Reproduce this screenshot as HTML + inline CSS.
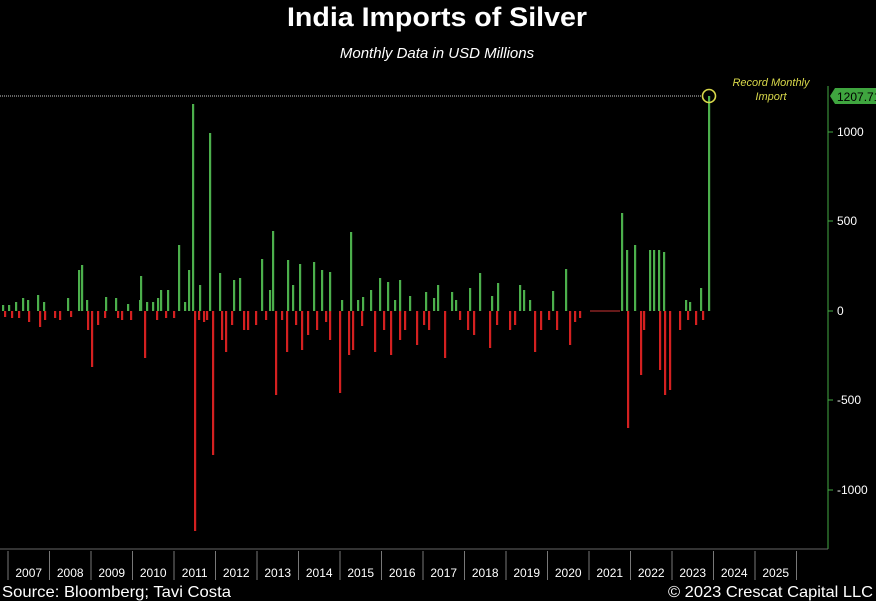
<!DOCTYPE html>
<html><head><meta charset="utf-8"><style>
body{margin:0;background:#000;width:876px;height:601px;overflow:hidden;font-family:"Liberation Sans",sans-serif}
</style></head><body>
<svg width="876" height="601" xmlns="http://www.w3.org/2000/svg" style="position:absolute;left:0;top:0">
<rect width="876" height="601" fill="#000"/>
<text x="287" y="26" fill="#fff" font-size="27" font-weight="bold" textLength="300" lengthAdjust="spacingAndGlyphs">India Imports of Silver</text>
<text x="437" y="58" fill="#fff" font-size="15" font-style="italic" text-anchor="middle">Monthly Data in USD Millions</text>
<line x1="0" y1="96" x2="702" y2="96" stroke="#ccc" stroke-width="1" stroke-dasharray="1,1"/>
<g id="bars"></g>
<line x1="590" y1="311" x2="620" y2="311" stroke="#c33" stroke-width="1"/>
<circle cx="709" cy="96" r="6.5" fill="none" stroke="#d8d84a" stroke-width="1.6"/>
<text x="771" y="86" fill="#d8d84a" font-size="11" font-style="italic" text-anchor="middle">Record Monthly</text>
<text x="771" y="100" fill="#d8d84a" font-size="11" font-style="italic" text-anchor="middle">Import</text>
<line x1="828" y1="86" x2="828" y2="549" stroke="#4a4" stroke-width="1"/>
<line x1="0" y1="549" x2="828" y2="549" stroke="#666" stroke-width="1"/>
<polygon points="830,96 835,88 876,88 876,104 835,104" fill="#3fa53f"/>
<text x="837" y="101" fill="#000" font-size="12">1207.71</text>
<g fill="#fff" font-size="12">
<text x="837" y="136">1000</text><text x="837" y="225">500</text><text x="837" y="315">0</text>
<text x="837" y="404">-500</text><text x="837" y="494">-1000</text>
</g>
<g stroke="#4a4" stroke-width="1">
<line x1="828" y1="132" x2="833" y2="132"/><line x1="828" y1="221" x2="833" y2="221"/><line x1="828" y1="311" x2="833" y2="311"/><line x1="828" y1="400" x2="833" y2="400"/><line x1="828" y1="490" x2="833" y2="490"/>
</g>
<g id="axis"></g>
<text x="2" y="597" fill="#fff" font-size="16" textLength="229" lengthAdjust="spacingAndGlyphs">Source: Bloomberg; Tavi Costa</text>
<text x="668" y="597" fill="#fff" font-size="16" textLength="205" lengthAdjust="spacingAndGlyphs">© 2023 Crescat Capital LLC</text>
</svg>
<script>
var ns="http://www.w3.org/2000/svg";
var g=[[3,305],[9,305],[16,302],[23,298],[28,300],[38,295],[44,302],[68,298],[79,270],[82,265],[87,300],[106,297],[116,298],[128,304],[140,300],[141,276],[147,302],[153,302],[158,298],[161,290],[168,290],[179,245],[185,302],[189,270],[193,104],[200,285],[210,133],[220,273],[234,280],[240,278],[262,259],[270,290],[273,231],[288,260],[293,285],[300,264],[314,262],[322,270],[330,272],[342,300],[351,232],[358,300],[363,297],[371,290],[380,278],[388,282],[395,300],[400,280],[410,296],[426,292],[434,298],[438,285],[452,292],[456,300],[470,288],[480,273],[492,296],[498,283],[520,285],[524,290],[530,300],[553,291],[566,269],[622,213],[627,250],[635,245],[650,250],[654,250],[659,250],[664,252],[686,300],[690,302],[701,288],[709,96]];
var r=[[5,317],[12,318],[19,318],[29,322],[40,327],[45,320],[55,318],[60,320],[71,317],[88,330],[92,367],[98,325],[105,318],[118,318],[122,320],[131,320],[145,358],[157,320],[166,318],[174,318],[195,531],[199,320],[204,322],[207,320],[213,455],[222,340],[226,352],[232,325],[244,330],[248,330],[256,325],[266,320],[276,395],[282,320],[287,352],[296,325],[302,350],[308,335],[317,330],[326,322],[330,340],[340,393],[349,355],[353,350],[362,326],[375,352],[384,330],[391,355],[400,340],[405,330],[417,345],[424,325],[429,330],[445,358],[460,320],[468,330],[474,335],[490,348],[497,325],[510,330],[515,325],[535,352],[541,330],[549,320],[557,330],[570,345],[575,322],[580,318],[628,428],[641,375],[644,330],[660,370],[665,395],[670,390],[680,330],[688,320],[696,325],[703,320]];
var B=document.getElementById("bars");
function rect(x,y,w,h,c){var e=document.createElementNS(ns,"rect");e.setAttribute("x",x);e.setAttribute("y",y);e.setAttribute("width",w);e.setAttribute("height",h);e.setAttribute("fill",c);B.appendChild(e);}
g.forEach(function(p){rect(p[0]-1,p[1],2.2,311-p[1],"#4caf4c");});
r.forEach(function(p){rect(p[0]-1,311,2.2,p[1]-311,"#d42020");});
var A=document.getElementById("axis");
for(var i=0;i<=19;i++){var x=8+i*41.5;var l=document.createElementNS(ns,"line");l.setAttribute("x1",x);l.setAttribute("x2",x);l.setAttribute("y1",551);l.setAttribute("y2",580);l.setAttribute("stroke","#777");A.appendChild(l);
if(i<19){var t=document.createElementNS(ns,"text");t.setAttribute("x",x+20.7);t.setAttribute("y",577);t.setAttribute("fill","#fff");t.setAttribute("font-size","12");t.setAttribute("text-anchor","middle");t.textContent=2007+i;A.appendChild(t);}}
</script>
</body></html>
